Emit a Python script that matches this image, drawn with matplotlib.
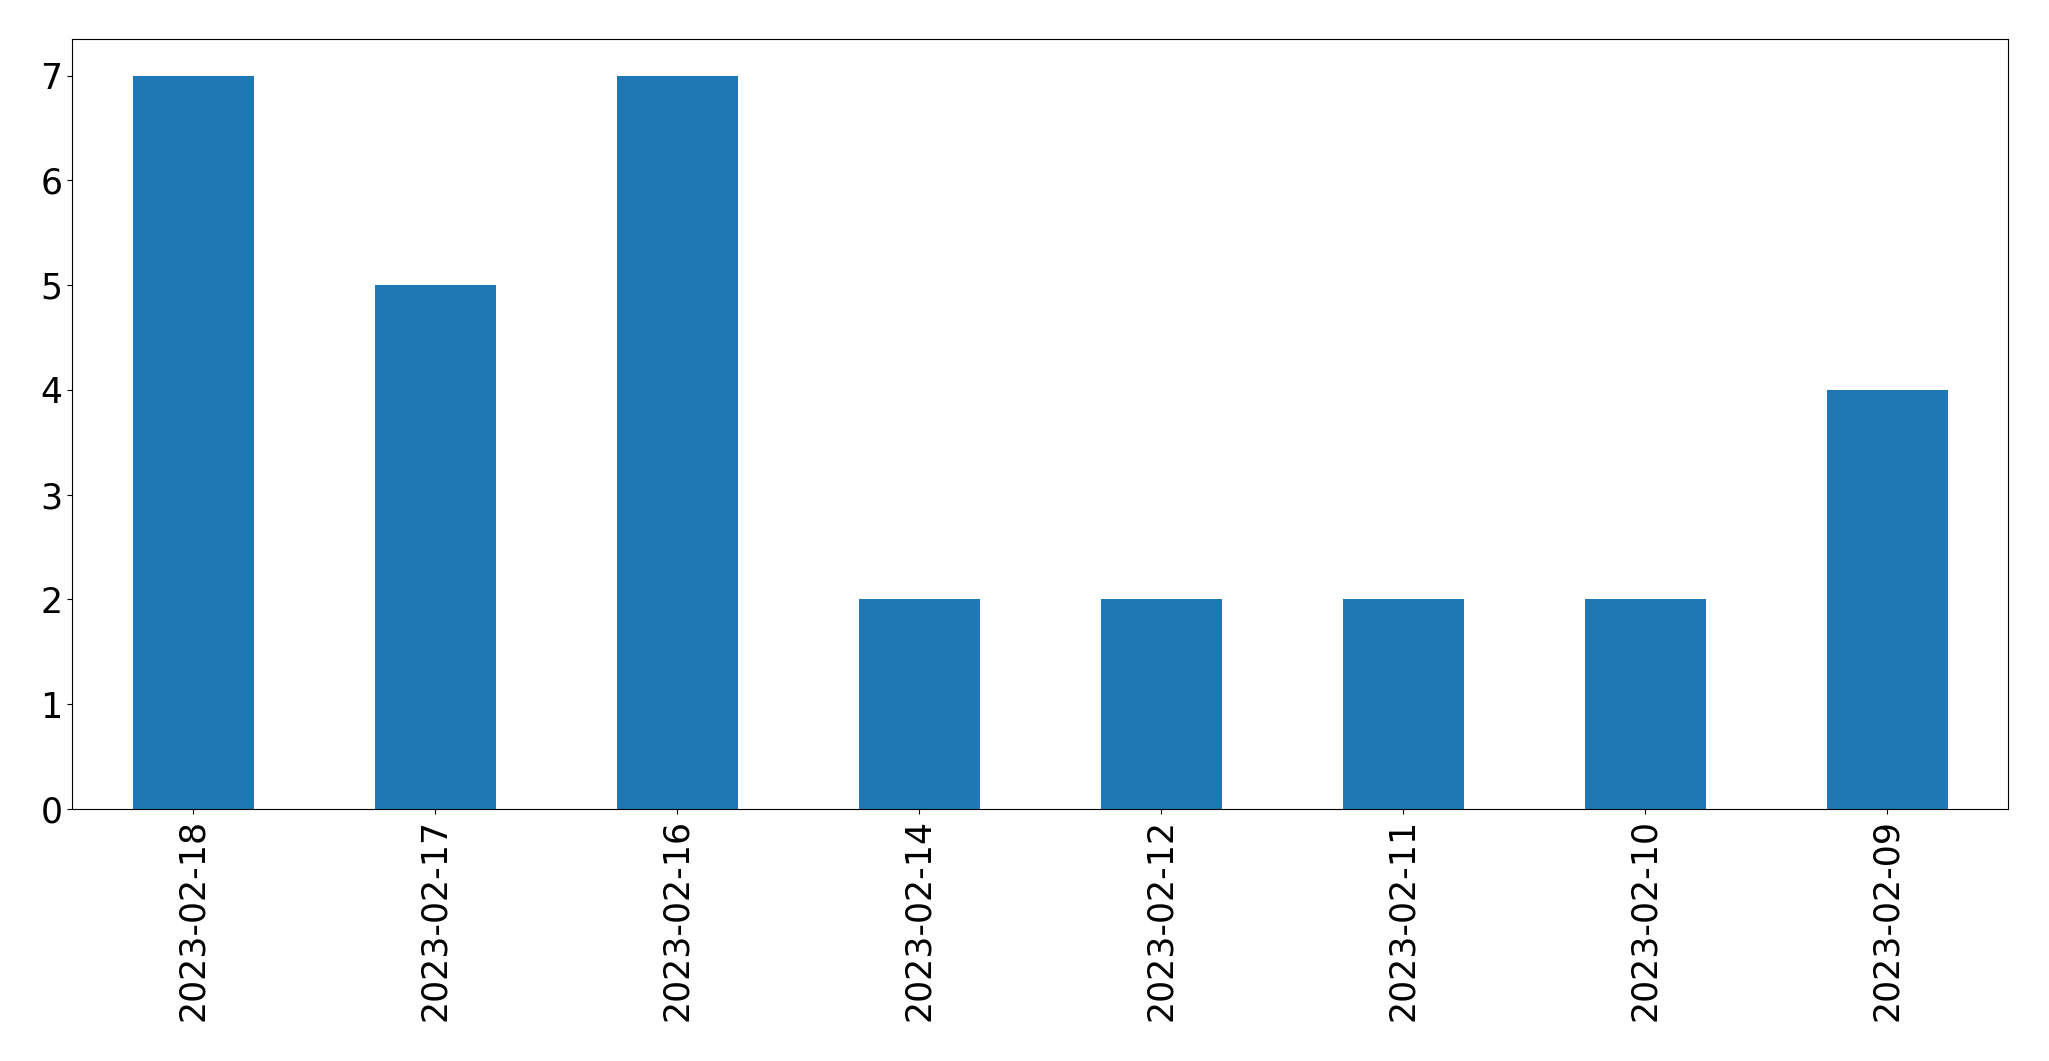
import matplotlib
matplotlib.use("Agg")
import matplotlib.pyplot as plt

dates = ["2023-02-18", "2023-02-17", "2023-02-16", "2023-02-14",
         "2023-02-12", "2023-02-11", "2023-02-10", "2023-02-09"]
counts = [7, 5, 7, 2, 2, 2, 2, 4]

fig = plt.figure(figsize=(20.49, 10.61), dpi=100)
ax = fig.add_axes([72 / 2049, 1 - 809 / 1061, (2008 - 72) / 2049, (809 - 39) / 1061])
x = range(len(dates))
ax.bar(x, counts, width=0.5, color="#1f77b4")
ax.set_xlim(-0.5, len(dates) - 0.5)
ax.set_ylim(0, 7.35)
ax.set_xticks(list(x))
ax.set_xticklabels(dates, rotation=90)
ax.tick_params(labelsize=25)
fig.savefig("out.png", dpi=100)
